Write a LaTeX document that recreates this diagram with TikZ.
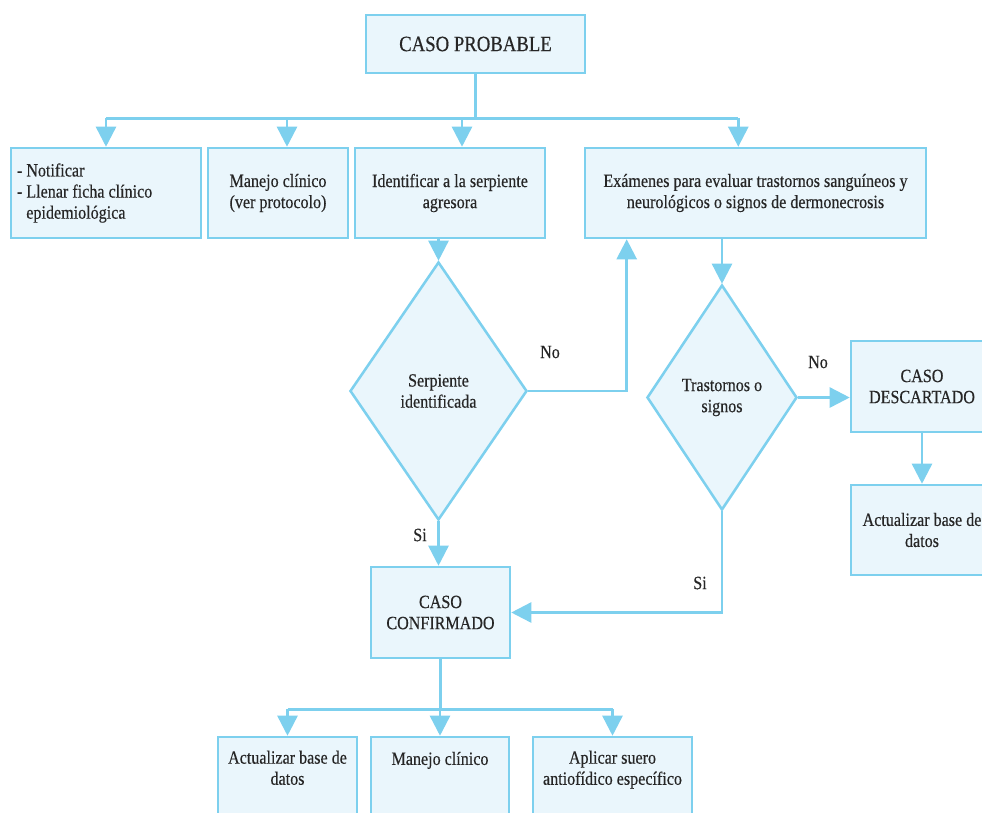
\documentclass[tikz,border=0pt]{standalone}
\usepackage{fontspec}
\setmainfont{Liberation Serif}[FakeStretch=0.86, FakeBold=0.4]
\usepackage{tikz}
\usetikzlibrary{positioning}
\usetikzlibrary{shapes.geometric}
\usetikzlibrary{arrows.meta}
\definecolor{mline}{RGB}{125,208,238}
\definecolor{mfill}{RGB}{234,246,252}
\tikzset{every picture/.style={
    x=0.025cm, y=-0.025cm, line width=1.8pt, color=mline,
    every node/.style={text=black!85},
}}
\tikzset{caja/.style = {draw=mline, fill=mfill, rectangle, align=center, inner sep=0,
    minimum height=2.25cm, font=\fontsize{13.3}{15}\selectfont}}
\tikzset{rombo/.style = {draw=mline, fill=mfill, diamond, align=center, inner sep=0,
    font=\fontsize{13.3}{15}\selectfont}}
\tikzset{flecha/.style = {-{Triangle[width=0.5cm, length=0.5cm]}, mline}}
\tikzset{etiq/.style = {font=\fontsize{13.3}{15}\selectfont}}

\begin{document}
\begin{tikzpicture}
    \useasboundingbox (0,0) rectangle (982,812);
    \clip (0,0) rectangle (982,812);

    \node [caja, minimum width=5.475cm, minimum height=1.45cm, font=\fontsize{15.5}{16}\selectfont] (prob) at (475.5,44) {CASO PROBABLE};
    \node [caja, minimum width=4.75cm, text width=4.45cm, align=flush left] (notif) at (106,193)
        {- Notificar\\- Llenar ficha clínico\\\hspace*{0.5em}epidemiológica};
    \node [caja, minimum width=3.5cm] (manejo) at (278,193) {Manejo clínico\\(ver protocolo)};
    \node [caja, minimum width=4.75cm] (ident) at (450,193) {Identificar a la serpiente\\agresora};
    \node [caja, minimum width=8.525cm] (exam) at (755.5,193)
        {Exámenes para evaluar trastornos sanguíneos y\\neurológicos o signos de dermonecrosis};

    \node [rombo, minimum width=4.425cm, minimum height=6.45cm] (serp) at (438.5,391) {Serpiente\\identificada};
    \node [rombo, minimum width=3.75cm, minimum height=5.625cm] (trast) at (722,397.5) {Trastornos o\\signos};

    \node [caja, minimum width=3.55cm, minimum height=2.275cm] (desc) at (922,386.5) {CASO\\DESCARTADO};
    \node [caja, minimum width=3.55cm] (actdesc) at (922,530) {Actualizar base de\\datos};
    \node [caja, minimum width=3.475cm, minimum height=2.275cm] (conf) at (440.5,612.5) {CASO\\CONFIRMADO};

    \node [caja, minimum width=3.475cm] (actconf) at (287.5,782) {Actualizar base de\\datos\\[0.4em]};
    \node [caja, minimum width=3.45cm] (manconf) at (440,782) {Manejo clínico\\[1.4em]};
    \node [caja, minimum width=3.975cm] (suero) at (612.5,782) {Aplicar suero\\antiofídico específico\\[0.4em]};

    % ramas del caso probable
    \draw (prob.south) -- ++(0,44) coordinate (bus);
    \draw (bus -| notif.north) -- ([xshift=-0.43cm]exam.north |- bus);
    \draw [flecha] (bus -| notif.north) -- (notif.north);
    \draw [flecha] ([xshift=0.225cm]manejo.north |- bus) -- ([xshift=0.225cm]manejo.north);
    \draw [flecha] ([xshift=0.3cm]ident.north |- bus) -- ([xshift=0.3cm]ident.north);
    \draw [flecha] ([xshift=-0.43cm]exam.north |- bus) -- ([xshift=-0.43cm]exam.north);

    \draw [flecha] (ident.south -| serp.north) -- (serp.north);
    \draw [flecha] (serp.east) -| ([xshift=1.075cm]exam.south west);
    \draw [flecha] (exam.south -| trast.north) -- (trast.north);
    \draw [flecha] (trast.east) -- (trast.east -| desc.west);
    \draw [flecha] (desc.south) -- (actdesc.north);
    \draw [flecha] (serp.south) -- (serp.south |- conf.north);
    \draw [flecha] (trast.south) |- (conf.east);

    % ramas del caso confirmado
    \draw (conf.south) -- ++(0,50) coordinate (bus2);
    \draw (bus2 -| actconf.north) -- (bus2 -| suero.north);
    \foreach \n in {actconf, manconf, suero}
        \draw [flecha] (bus2 -| \n.north) -- (\n.north);

    \node [etiq] (no1) at (550,352) {No};
    \node [etiq] (si1) at (420,535) {Si};
    \node [etiq] (no2) at (818,362) {No};
    \node [etiq] (si2) at (700,583) {Si};
\end{tikzpicture}
\end{document}
